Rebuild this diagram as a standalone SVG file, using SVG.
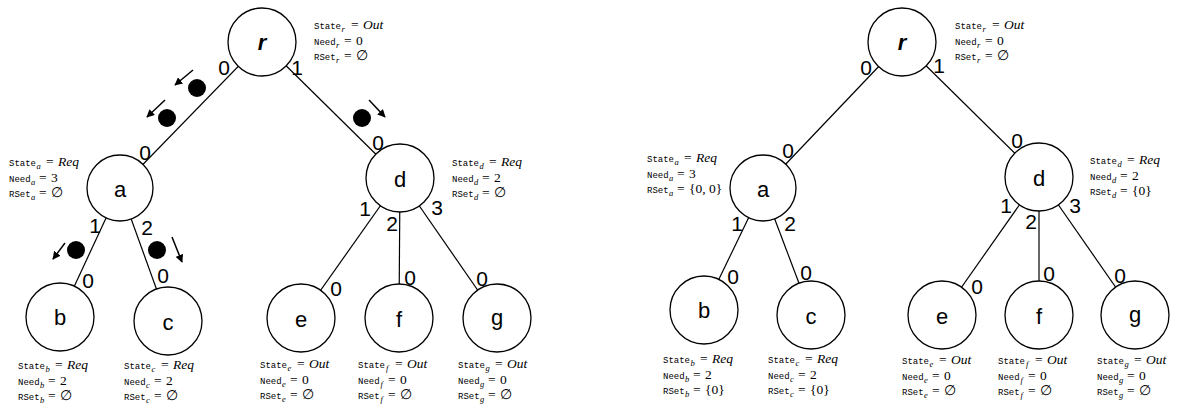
<svg xmlns="http://www.w3.org/2000/svg" width="1184" height="410" viewBox="0 0 1184 410">
<style>
.nd{fill:#fff;stroke:#000;stroke-width:1.3}
.ed{stroke:#000;stroke-width:1.2;fill:none}
.lb{font-family:"Liberation Sans",Arial,sans-serif;font-size:22px;text-anchor:middle;fill:#000}
.rt{font-weight:bold;font-style:italic}
.el{font-family:"Liberation Sans",Arial,sans-serif;font-size:21px;text-anchor:middle;fill:#000}
.tt{font-family:"Liberation Mono",monospace;font-size:9px}
.sb{font-family:"Liberation Serif","DejaVu Serif",serif;font-style:italic;font-size:8.5px}
.mr{font-family:"Liberation Serif","DejaVu Serif",serif;font-size:13.5px}
.mi{font-family:"Liberation Serif","DejaVu Serif",serif;font-style:italic;font-size:13.5px}
.tk{fill:#000}
.ar{stroke:#000;stroke-width:1.5;fill:none;marker-end:url(#ah)}
</style>
<defs>
<marker id="ah" viewBox="0 0 10 10" refX="9" refY="5" markerWidth="8" markerHeight="8" markerUnits="userSpaceOnUse" orient="auto"><path d="M0,0 L10,5 L0,10 z" fill="#000"/></marker>
</defs>
<rect width="1184" height="410" fill="#fff"/>
<g id="connectors">
<line class="ed" x1="262" y1="42" x2="120" y2="188"/>
<line class="ed" x1="262" y1="42" x2="400" y2="178"/>
<line class="ed" x1="120" y1="188" x2="60" y2="317"/>
<line class="ed" x1="120" y1="188" x2="168" y2="321"/>
<line class="ed" x1="400" y1="178" x2="301" y2="318"/>
<line class="ed" x1="400" y1="178" x2="399" y2="318"/>
<line class="ed" x1="400" y1="178" x2="497" y2="318"/>
<line class="ed" x1="902" y1="42" x2="763" y2="188"/>
<line class="ed" x1="902" y1="42" x2="1039" y2="177"/>
<line class="ed" x1="763" y1="188" x2="704" y2="310"/>
<line class="ed" x1="763" y1="188" x2="811" y2="315"/>
<line class="ed" x1="1039" y1="177" x2="942" y2="315"/>
<line class="ed" x1="1039" y1="177" x2="1039" y2="315"/>
<line class="ed" x1="1039" y1="177" x2="1135" y2="315"/>
<g id="edge-labels">
<text class="el" x="224" y="75">0</text>
<text class="el" x="297" y="75">1</text>
<text class="el" x="145" y="160">0</text>
<text class="el" x="378" y="150">0</text>
<text class="el" x="365" y="216">1</text>
<text class="el" x="392" y="231">2</text>
<text class="el" x="437" y="215">3</text>
<text class="el" x="95" y="233">1</text>
<text class="el" x="147" y="235">2</text>
<text class="el" x="88" y="288">0</text>
<text class="el" x="163" y="283">0</text>
<text class="el" x="336" y="296">0</text>
<text class="el" x="410" y="285">0</text>
<text class="el" x="482" y="286">0</text>
<text class="el" x="866" y="75">0</text>
<text class="el" x="939" y="73">1</text>
<text class="el" x="788" y="158">0</text>
<text class="el" x="1017" y="148">0</text>
<text class="el" x="737" y="231">1</text>
<text class="el" x="790" y="231">2</text>
<text class="el" x="733" y="284">0</text>
<text class="el" x="806" y="280">0</text>
<text class="el" x="1006" y="213">1</text>
<text class="el" x="1031" y="229">2</text>
<text class="el" x="1075" y="213">3</text>
<text class="el" x="977" y="294">0</text>
<text class="el" x="1049" y="281">0</text>
<text class="el" x="1120" y="283">0</text>
</g>
</g>
<g id="messages">
<circle class="tk" cx="197" cy="88" r="9"/>
<line class="ar" x1="193" y1="70" x2="175" y2="85"/>
<circle class="tk" cx="167" cy="118" r="9"/>
<line class="ar" x1="165" y1="100" x2="147" y2="117"/>
<circle class="tk" cx="362" cy="118" r="9"/>
<line class="ar" x1="369" y1="100" x2="385" y2="117"/>
<circle class="tk" cx="76" cy="250" r="9"/>
<line class="ar" x1="65" y1="243" x2="53" y2="259"/>
<circle class="tk" cx="157" cy="250" r="9"/>
<line class="ar" x1="172" y1="237" x2="182" y2="262"/>
</g>
<!-- Left tree -->
<g id="L-r">
<circle class="nd" cx="262" cy="42" r="34"/>
<text class="lb rt" x="262" y="50">r</text>
<text><tspan class="tt" x="314" y="29">State</tspan><tspan class="sb" x="341.5" y="32">r</tspan><tspan class="mr" x="351" y="29">=</tspan><tspan class="mi" x="363" y="29">Out</tspan></text>
<text><tspan class="tt" x="314" y="44.5">Need</tspan><tspan class="sb" x="336" y="47.5">r</tspan><tspan class="mr" x="344" y="44.5">=</tspan><tspan class="mr" x="356" y="44.5">0</tspan></text>
<text><tspan class="tt" x="314" y="60">RSet</tspan><tspan class="sb" x="336" y="63">r</tspan><tspan class="mr" x="344" y="60">=</tspan><tspan class="mr" x="356" y="60">∅</tspan></text>
</g>
<g id="L-a">
<circle class="nd" cx="120" cy="188" r="33"/>
<text class="lb" x="120" y="197">a</text>
<text><tspan class="tt" x="9" y="166">State</tspan><tspan class="sb" x="36.5" y="169">a</tspan><tspan class="mr" x="46" y="166">=</tspan><tspan class="mi" x="58" y="166">Req</tspan></text>
<text><tspan class="tt" x="9" y="181.5">Need</tspan><tspan class="sb" x="31" y="184.5">a</tspan><tspan class="mr" x="39" y="181.5">=</tspan><tspan class="mr" x="51" y="181.5">3</tspan></text>
<text><tspan class="tt" x="9" y="197">RSet</tspan><tspan class="sb" x="31" y="200">a</tspan><tspan class="mr" x="39" y="197">=</tspan><tspan class="mr" x="51" y="197">∅</tspan></text>
</g>
<g id="L-d">
<circle class="nd" cx="400" cy="178" r="34"/>
<text class="lb" x="400" y="187">d</text>
<text><tspan class="tt" x="452" y="166">State</tspan><tspan class="sb" x="479.5" y="169">d</tspan><tspan class="mr" x="489" y="166">=</tspan><tspan class="mi" x="501" y="166">Req</tspan></text>
<text><tspan class="tt" x="452" y="181.5">Need</tspan><tspan class="sb" x="474" y="184.5">d</tspan><tspan class="mr" x="482" y="181.5">=</tspan><tspan class="mr" x="494" y="181.5">2</tspan></text>
<text><tspan class="tt" x="452" y="197">RSet</tspan><tspan class="sb" x="474" y="200">d</tspan><tspan class="mr" x="482" y="197">=</tspan><tspan class="mr" x="494" y="197">∅</tspan></text>
</g>
<g id="L-b">
<circle class="nd" cx="60" cy="317" r="34"/>
<text class="lb" x="60" y="325">b</text>
<text><tspan class="tt" x="18" y="369">State</tspan><tspan class="sb" x="45.5" y="372">b</tspan><tspan class="mr" x="55" y="369">=</tspan><tspan class="mi" x="67" y="369">Req</tspan></text>
<text><tspan class="tt" x="18" y="384.5">Need</tspan><tspan class="sb" x="40" y="387.5">b</tspan><tspan class="mr" x="48" y="384.5">=</tspan><tspan class="mr" x="60" y="384.5">2</tspan></text>
<text><tspan class="tt" x="18" y="400">RSet</tspan><tspan class="sb" x="40" y="403">b</tspan><tspan class="mr" x="48" y="400">=</tspan><tspan class="mr" x="60" y="400">∅</tspan></text>
</g>
<g id="L-c">
<circle class="nd" cx="168" cy="321" r="34"/>
<text class="lb" x="168" y="330">c</text>
<text><tspan class="tt" x="124" y="369">State</tspan><tspan class="sb" x="151.5" y="372">c</tspan><tspan class="mr" x="161" y="369">=</tspan><tspan class="mi" x="173" y="369">Req</tspan></text>
<text><tspan class="tt" x="124" y="384.5">Need</tspan><tspan class="sb" x="146" y="387.5">c</tspan><tspan class="mr" x="154" y="384.5">=</tspan><tspan class="mr" x="166" y="384.5">2</tspan></text>
<text><tspan class="tt" x="124" y="400">RSet</tspan><tspan class="sb" x="146" y="403">c</tspan><tspan class="mr" x="154" y="400">=</tspan><tspan class="mr" x="166" y="400">∅</tspan></text>
</g>
<g id="L-e">
<circle class="nd" cx="301" cy="318" r="34"/>
<text class="lb" x="301" y="327">e</text>
<text><tspan class="tt" x="260" y="368">State</tspan><tspan class="sb" x="287.5" y="371">e</tspan><tspan class="mr" x="297" y="368">=</tspan><tspan class="mi" x="309" y="368">Out</tspan></text>
<text><tspan class="tt" x="260" y="383.5">Need</tspan><tspan class="sb" x="282" y="386.5">e</tspan><tspan class="mr" x="290" y="383.5">=</tspan><tspan class="mr" x="302" y="383.5">0</tspan></text>
<text><tspan class="tt" x="260" y="399">RSet</tspan><tspan class="sb" x="282" y="402">e</tspan><tspan class="mr" x="290" y="399">=</tspan><tspan class="mr" x="302" y="399">∅</tspan></text>
</g>
<g id="L-f">
<circle class="nd" cx="399" cy="318" r="34"/>
<text class="lb" x="399" y="327">f</text>
<text><tspan class="tt" x="358" y="368">State</tspan><tspan class="sb" x="386" y="371">f</tspan><tspan class="mr" x="395" y="368">=</tspan><tspan class="mi" x="407" y="368">Out</tspan></text>
<text><tspan class="tt" x="358" y="383.5">Need</tspan><tspan class="sb" x="380.5" y="386.5">f</tspan><tspan class="mr" x="388" y="383.5">=</tspan><tspan class="mr" x="400" y="383.5">0</tspan></text>
<text><tspan class="tt" x="358" y="399">RSet</tspan><tspan class="sb" x="380.5" y="402">f</tspan><tspan class="mr" x="388" y="399">=</tspan><tspan class="mr" x="400" y="399">∅</tspan></text>
</g>
<g id="L-g">
<circle class="nd" cx="497" cy="318" r="34"/>
<text class="lb" x="497" y="325">g</text>
<text><tspan class="tt" x="458" y="368">State</tspan><tspan class="sb" x="485.5" y="371">g</tspan><tspan class="mr" x="495" y="368">=</tspan><tspan class="mi" x="507" y="368">Out</tspan></text>
<text><tspan class="tt" x="458" y="383.5">Need</tspan><tspan class="sb" x="480" y="386.5">g</tspan><tspan class="mr" x="488" y="383.5">=</tspan><tspan class="mr" x="500" y="383.5">0</tspan></text>
<text><tspan class="tt" x="458" y="399">RSet</tspan><tspan class="sb" x="480" y="402">g</tspan><tspan class="mr" x="488" y="399">=</tspan><tspan class="mr" x="500" y="399">∅</tspan></text>
</g>
<!-- Right tree -->
<g id="R-r">
<circle class="nd" cx="902" cy="42" r="34"/>
<text class="lb rt" x="902" y="50">r</text>
<text><tspan class="tt" x="955" y="29">State</tspan><tspan class="sb" x="982.5" y="32">r</tspan><tspan class="mr" x="992" y="29">=</tspan><tspan class="mi" x="1004" y="29">Out</tspan></text>
<text><tspan class="tt" x="955" y="44.5">Need</tspan><tspan class="sb" x="977" y="47.5">r</tspan><tspan class="mr" x="985" y="44.5">=</tspan><tspan class="mr" x="997" y="44.5">0</tspan></text>
<text><tspan class="tt" x="955" y="60">RSet</tspan><tspan class="sb" x="977" y="63">r</tspan><tspan class="mr" x="985" y="60">=</tspan><tspan class="mr" x="997" y="60">∅</tspan></text>
</g>
<g id="R-a">
<circle class="nd" cx="763" cy="188" r="33"/>
<text class="lb" x="763" y="197">a</text>
<text><tspan class="tt" x="647" y="162">State</tspan><tspan class="sb" x="674.5" y="165">a</tspan><tspan class="mr" x="684" y="162">=</tspan><tspan class="mi" x="696" y="162">Req</tspan></text>
<text><tspan class="tt" x="647" y="177.5">Need</tspan><tspan class="sb" x="669" y="180.5">a</tspan><tspan class="mr" x="677" y="177.5">=</tspan><tspan class="mr" x="689" y="177.5">3</tspan></text>
<text><tspan class="tt" x="647" y="193">RSet</tspan><tspan class="sb" x="669" y="196">a</tspan><tspan class="mr" x="677" y="193">=</tspan><tspan class="mr" x="689" y="193">{0, 0}</tspan></text>
</g>
<g id="R-d">
<circle class="nd" cx="1039" cy="177" r="34"/>
<text class="lb" x="1039" y="186">d</text>
<text><tspan class="tt" x="1090" y="164">State</tspan><tspan class="sb" x="1117.5" y="167">d</tspan><tspan class="mr" x="1127" y="164">=</tspan><tspan class="mi" x="1139" y="164">Req</tspan></text>
<text><tspan class="tt" x="1090" y="179.5">Need</tspan><tspan class="sb" x="1112" y="182.5">d</tspan><tspan class="mr" x="1120" y="179.5">=</tspan><tspan class="mr" x="1132" y="179.5">2</tspan></text>
<text><tspan class="tt" x="1090" y="195">RSet</tspan><tspan class="sb" x="1112" y="198">d</tspan><tspan class="mr" x="1120" y="195">=</tspan><tspan class="mr" x="1132" y="195">{0}</tspan></text>
</g>
<g id="R-b">
<circle class="nd" cx="704" cy="310" r="34"/>
<text class="lb" x="704" y="318">b</text>
<text><tspan class="tt" x="663" y="363">State</tspan><tspan class="sb" x="690.5" y="366">b</tspan><tspan class="mr" x="700" y="363">=</tspan><tspan class="mi" x="712" y="363">Req</tspan></text>
<text><tspan class="tt" x="663" y="378.5">Need</tspan><tspan class="sb" x="685" y="381.5">b</tspan><tspan class="mr" x="693" y="378.5">=</tspan><tspan class="mr" x="705" y="378.5">2</tspan></text>
<text><tspan class="tt" x="663" y="394">RSet</tspan><tspan class="sb" x="685" y="397">b</tspan><tspan class="mr" x="693" y="394">=</tspan><tspan class="mr" x="705" y="394">{0}</tspan></text>
</g>
<g id="R-c">
<circle class="nd" cx="811" cy="315" r="34"/>
<text class="lb" x="811" y="324">c</text>
<text><tspan class="tt" x="768" y="363">State</tspan><tspan class="sb" x="795.5" y="366">c</tspan><tspan class="mr" x="805" y="363">=</tspan><tspan class="mi" x="817" y="363">Req</tspan></text>
<text><tspan class="tt" x="768" y="378.5">Need</tspan><tspan class="sb" x="790" y="381.5">c</tspan><tspan class="mr" x="798" y="378.5">=</tspan><tspan class="mr" x="810" y="378.5">2</tspan></text>
<text><tspan class="tt" x="768" y="394">RSet</tspan><tspan class="sb" x="790" y="397">c</tspan><tspan class="mr" x="798" y="394">=</tspan><tspan class="mr" x="810" y="394">{0}</tspan></text>
</g>
<g id="R-e">
<circle class="nd" cx="942" cy="315" r="34"/>
<text class="lb" x="942" y="324">e</text>
<text><tspan class="tt" x="902" y="364">State</tspan><tspan class="sb" x="929.5" y="367">e</tspan><tspan class="mr" x="939" y="364">=</tspan><tspan class="mi" x="951" y="364">Out</tspan></text>
<text><tspan class="tt" x="902" y="379.5">Need</tspan><tspan class="sb" x="924" y="382.5">e</tspan><tspan class="mr" x="932" y="379.5">=</tspan><tspan class="mr" x="944" y="379.5">0</tspan></text>
<text><tspan class="tt" x="902" y="395">RSet</tspan><tspan class="sb" x="924" y="398">e</tspan><tspan class="mr" x="932" y="395">=</tspan><tspan class="mr" x="944" y="395">∅</tspan></text>
</g>
<g id="R-f">
<circle class="nd" cx="1039" cy="315" r="34"/>
<text class="lb" x="1039" y="324">f</text>
<text><tspan class="tt" x="998" y="364">State</tspan><tspan class="sb" x="1026" y="367">f</tspan><tspan class="mr" x="1035" y="364">=</tspan><tspan class="mi" x="1047" y="364">Out</tspan></text>
<text><tspan class="tt" x="998" y="379.5">Need</tspan><tspan class="sb" x="1020.5" y="382.5">f</tspan><tspan class="mr" x="1028" y="379.5">=</tspan><tspan class="mr" x="1040" y="379.5">0</tspan></text>
<text><tspan class="tt" x="998" y="395">RSet</tspan><tspan class="sb" x="1020.5" y="398">f</tspan><tspan class="mr" x="1028" y="395">=</tspan><tspan class="mr" x="1040" y="395">∅</tspan></text>
</g>
<g id="R-g">
<circle class="nd" cx="1135" cy="315" r="34"/>
<text class="lb" x="1135" y="322">g</text>
<text><tspan class="tt" x="1097" y="364">State</tspan><tspan class="sb" x="1124.5" y="367">g</tspan><tspan class="mr" x="1134" y="364">=</tspan><tspan class="mi" x="1146" y="364">Out</tspan></text>
<text><tspan class="tt" x="1097" y="379.5">Need</tspan><tspan class="sb" x="1119" y="382.5">g</tspan><tspan class="mr" x="1127" y="379.5">=</tspan><tspan class="mr" x="1139" y="379.5">0</tspan></text>
<text><tspan class="tt" x="1097" y="395">RSet</tspan><tspan class="sb" x="1119" y="398">g</tspan><tspan class="mr" x="1127" y="395">=</tspan><tspan class="mr" x="1139" y="395">∅</tspan></text>
</g>
</svg>
